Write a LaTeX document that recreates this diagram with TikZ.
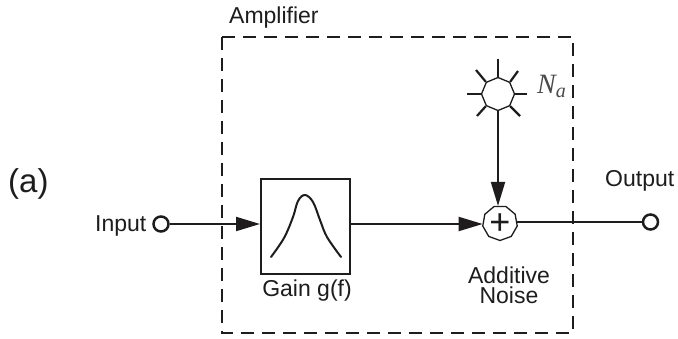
\documentclass[tikz,border=0pt]{standalone}
\usepackage{fontspec}
\setmainfont{Liberation Sans}
\usetikzlibrary{shapes.geometric,arrows.meta}
\definecolor{ink}{RGB}{30,28,29}
\tikzset{
  x=1pt,y=-1pt,
  every node/.style={text=ink},
  wire/.style={draw=ink,line width=2pt},
  ray/.style={draw=ink,line width=2.2pt},
  tip/.style={-{Triangle[length=24pt,width=14pt,color=ink]}},
  port/.style={circle,draw=ink,line width=2.5pt,minimum size=15pt,inner sep=0pt,fill=white},
  octa/.style={regular polygon,regular polygon sides=8,shape border rotate=22.5,draw=ink,line width=1.3pt,inner sep=0pt,minimum size=33pt},
  sumnode/.style={regular polygon,regular polygon sides=9,shape border rotate=180,draw=ink,line width=1.3pt,inner sep=0pt,minimum size=35pt},
  label/.style={inner sep=0pt,font=\fontsize{23}{20}\selectfont},
  gainbox/.style={rectangle,draw=ink,line width=2pt,minimum width=89pt,minimum height=95pt,inner sep=0pt},
  frame/.style={draw=ink,line width=2.8pt,dash pattern=on 13pt off 8pt}
}
\begin{document}
\begin{tikzpicture}
\useasboundingbox (0,0) rectangle (678,339);
\fill[white] (0,0) rectangle (678,339);
\draw[frame] (222,37) rectangle (573,333);
\node[gainbox] (gain) at (305.5,226.5) {};
\draw[draw=ink,line width=2pt,line cap=round] plot[smooth,tension=0.6] coordinates {(271,257) (284,238) (293,217) (298,201) (305,195) (313,202) (320,220) (327,237) (341,257)};
\node[port] (in) at (161,224) {};
\node[port] (out) at (650.5,222) {};
\node[octa] (sun) at (498,94) {};
\node[sumnode] (sum) at (500,223) {};
\node[inner sep=0pt,font=\fontsize{36}{36}\selectfont] (plus) at (500,224) {+};
\draw[wire,tip] (in) -- (gain.west |- in);
\draw[wire,tip] (gain.east |- in) -- (sum.west |- in);
\draw[wire,tip] (sun.south) -- (sun.south |- sum.north);
\draw[wire] (sum.east |- out) -- (out);
\coordinate (r1) at (498,59);
\coordinate (r2) at (467,94);
\coordinate (r3) at (527,94);
\coordinate (r4) at (476,70);
\coordinate (r5) at (518,71);
\coordinate (r6) at (477,116);
\coordinate (r7) at (520,116);
\foreach \r/\a in {r1/corner 1,r2/corner 3,r3/corner 7,r4/corner 2,r5/corner 8,r6/corner 4,r7/corner 6}{
  \draw[ray] (\r) -- (sun.\a);
}
\node[label,anchor=base west] (amp) at (229,24) {Amplifier};
\node[label,anchor=base west,font=\fontsize{33}{33}\selectfont] (a) at (8,193) {(a)};
\node[label,anchor=base west] (inp) at (95,232) {Input};
\node[label,anchor=base west] (outp) at (605,187) {Output};
\node[label,anchor=base] (gl) at (307,297) {Gain g(f)};
\node[label,align=center,anchor=north] (ad) at (509,267) {Additive\\Noise};
\node[inner sep=0pt,anchor=base west,font=\fontsize{28}{28}\selectfont,text=ink!80] (na) at (537,94) {\fontspec{Liberation Serif}\itshape N\raisebox{-4pt}{\fontsize{20}{20}\selectfont a}};
\end{tikzpicture}
\end{document}
